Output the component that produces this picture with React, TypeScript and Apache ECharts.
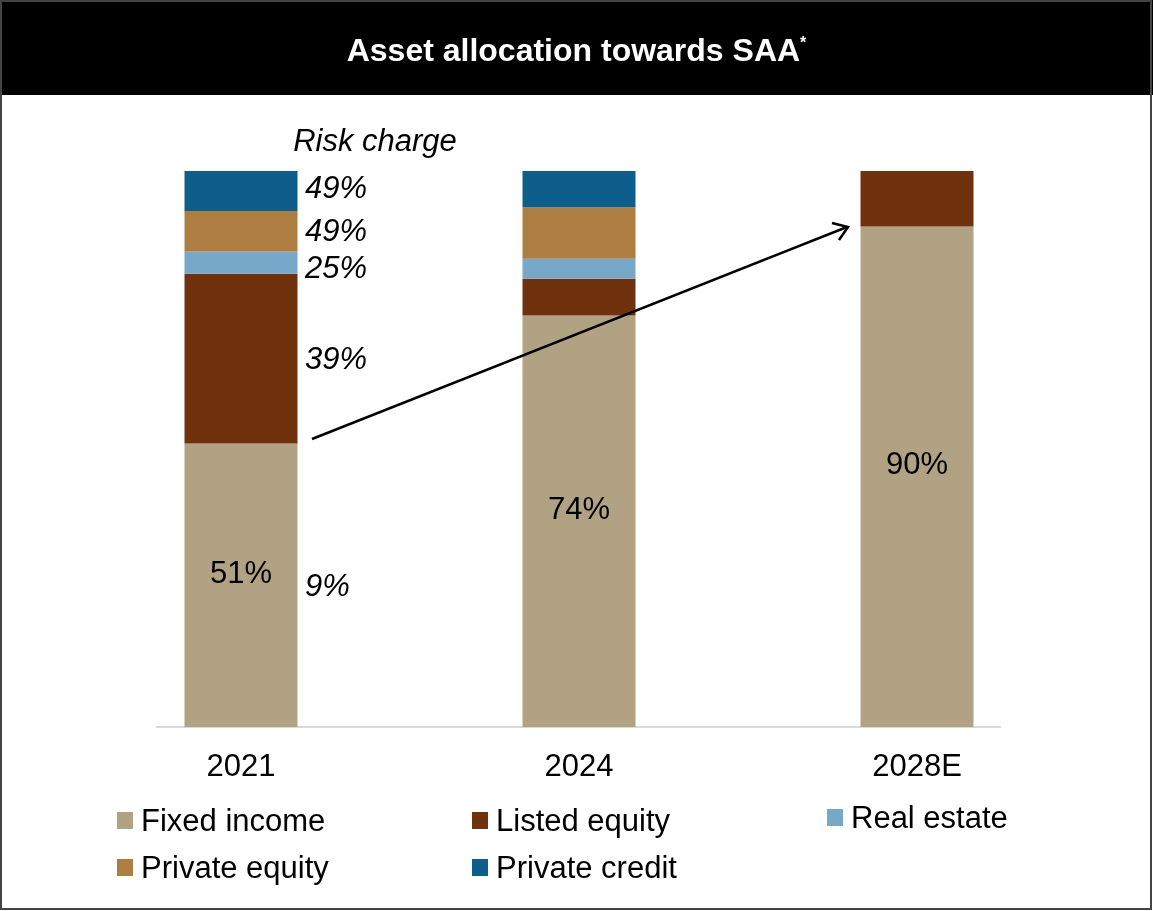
import React, { useEffect, useRef } from "react";
import * as echarts from "echarts";

const categories = ["2021", "2024", "2028E"];
const fixedIncome = [51, 74, 90];
const listedEquity = [30.5, 6.6, 10];
const realEstate = [4, 3.6, 0];
const privateEquity = [7.3, 9.3, 0];
const privateCredit = [7.2, 6.5, 0];
// Risk charge for 2021 by segment, bottom to top
const riskCharge2021 = ["9%", "39%", "25%", "49%", "49%"];

const seriesNames = ["Fixed income", "Listed equity", "Real estate", "Private equity", "Private credit"];
const seriesColors = ["#B1A284", "#70320C", "#78A8C8", "#AD7D42", "#0E5E8C"];
const seriesValues = [fixedIncome, listedEquity, realEstate, privateEquity, privateCredit];

const FONT = "'Liberation Sans', Arial, sans-serif";
const FS = 31;
// small vertical nudges (px) of the risk-charge labels, bottom to top
const riskLabelNudge = [0, 0, 5, -1, -4];

export default function App() {
  const ref = useRef<HTMLDivElement>(null);
  useEffect(() => {
    if (!ref.current) return;
    const chart = echarts.init(ref.current, null, { renderer: "svg" });

    // midpoints of 2021 segments for risk charge labels
    let cum = 0;
    const riskPoints = seriesValues.map((vals, i) => {
      const mid = cum + vals[0] / 2;
      cum += vals[0];
      return { value: [categories[0], mid], name: riskCharge2021[i], label: { offset: [0, riskLabelNudge[i]] } };
    });

    const barSeries = seriesNames.map((name, i) => ({
      name,
      type: "bar",
      stack: "total",
      barWidth: 113,
      data: seriesValues[i],
      itemStyle: { color: seriesColors[i] },
      label:
        i === 0
          ? {
              show: true,
              position: "inside",
              offset: [0, -13],
              formatter: (p: any) => `${p.value}%`,
              color: "#000",
              fontSize: FS,
              fontFamily: FONT,
            }
          : { show: false },
      emphasis: { disabled: true },
    }));

    const legendPos = [
      { left: 117, top: 805 },
      { left: 472, top: 805 },
      { left: 827, top: 802 },
      { left: 117, top: 852 },
      { left: 472, top: 852 },
    ];

    chart.setOption({
      animation: false,
      title: {
        text: "Asset allocation towards SAA{sup|*}",
        left: "center",
        top: 29,
        textStyle: {
          color: "#fff",
          fontSize: 32,
          fontWeight: "bold",
          fontFamily: FONT,
          rich: {
            sup: { fontSize: 16, color: "#fff", fontWeight: "bold", fontFamily: FONT, verticalAlign: "top", padding: [0, 0, 14, 0] },
          },
        },
      },
      legend: seriesNames.map((name, i) => ({
        data: [name],
        left: legendPos[i].left,
        top: legendPos[i].top,
        padding: 0,
        icon: "rect",
        itemWidth: 16,
        itemHeight: 17,
        selectedMode: false,
        textStyle: { fontSize: FS, color: "#000", fontFamily: FONT, padding: [0, 0, 0, 3] },
      })),
      grid: { left: 72, right: 67, top: 171, bottom: 184 },
      xAxis: {
        type: "category",
        data: categories,
        axisLine: { show: false },
        axisTick: { show: false },
        axisLabel: { fontSize: FS, color: "#000", fontFamily: FONT, margin: 23 },
      },
      yAxis: { type: "value", min: 0, max: 100, show: false, splitLine: { show: false } },
      series: [
        ...barSeries,
        {
          name: "Risk charge",
          type: "scatter",
          symbolSize: 0,
          itemStyle: { opacity: 1 },
          data: riskPoints,
          label: {
            show: true,
            position: "right",
            distance: 64,
            formatter: (p: any) => p.name,
            fontSize: FS,
            lineHeight: 27,
            fontStyle: "italic",
            color: "#000",
            fontFamily: FONT,
          },
          emphasis: { disabled: true },
          z: 5,
        },
      ],
      graphic: [
        { type: "rect", shape: { x: 0, y: 0, width: 1153, height: 95 }, style: { fill: "#000" }, z: -10 },
        { type: "rect", shape: { x: 1, y: 1, width: 1150, height: 908 }, style: { fill: "none", stroke: "#444", lineWidth: 2 }, z: -9 },
        { type: "line", shape: { x1: 156, y1: 727, x2: 1001, y2: 727 }, style: { stroke: "#D9D9D9", lineWidth: 2 }, z: -5 },
        {
          type: "text",
          x: 375,
          y: 140,
          style: { text: "Risk charge", fontSize: FS, fontStyle: "italic", fill: "#000", fontFamily: FONT, align: "center", verticalAlign: "middle" },
        },
        { type: "line", shape: { x1: 312, y1: 439, x2: 847, y2: 227 }, style: { stroke: "#000", lineWidth: 2.5 }, z: 10 },
        { type: "polyline", shape: { points: [[832, 223], [848, 227], [839, 240]] }, style: { stroke: "#000", lineWidth: 2.5, fill: "none" }, z: 10 },
      ],
    });
    return () => chart.dispose();
  }, []);
  return <div ref={ref} style={{ position: "fixed", left: 0, top: 0, width: 1153, height: 911 }} />;
}
